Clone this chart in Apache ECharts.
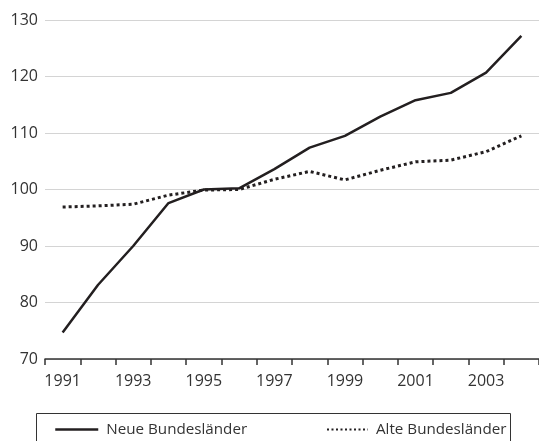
<!DOCTYPE html>
<html>
<head>
<meta charset="utf-8">
<script src="https://cdn.jsdelivr.net/npm/echarts@6/dist/echarts.min.js"></script>
<style>
html,body{margin:0;padding:0;background:#fff;}
#chart{width:539px;height:441px;}
</style>
</head>
<body>
<div id="chart"></div>
<script>
const years = ['1991','1992','1993','1994','1995','1996','1997','1998','1999','2000','2001','2002','2003','2004'];
const neueBundeslaender = [74.7, 83.1, 90.0, 97.6, 100.0, 100.2, 103.6, 107.4, 109.5, 112.9, 115.8, 117.1, 120.7, 127.2];
const alteBundeslaender = [96.9, 97.1, 97.4, 99.0, 99.9, 100.0, 101.8, 103.2, 101.7, 103.4, 104.9, 105.2, 106.7, 109.5];
const seriesNames = ['Neue Bundesländer', 'Alte Bundesländer'];

const FONT = '"Open Sans", sans-serif';
const INK = '#231f20';

const chart = echarts.init(document.getElementById('chart'), null, {renderer: 'canvas'});
chart.setOption({
  animation: false,
  backgroundColor: '#fff',
  textStyle: {fontFamily: FONT},
  grid: {left: 45, top: 20, width: 497, height: 339, containLabel: false},
  xAxis: {
    type: 'category',
    data: years,
    boundaryGap: true,
    axisLine: {lineStyle: {color: '#333', width: 1.5}},
    axisTick: {show: true, interval: 0, length: 6, lineStyle: {color: '#333', width: 1.5}},
    axisLabel: {interval: 1, color: '#333', fontSize: 16, fontFamily: FONT, margin: 14},
    splitLine: {show: false}
  },
  yAxis: {
    type: 'value',
    min: 70, max: 130, interval: 10,
    axisLine: {show: false},
    axisTick: {show: false},
    axisLabel: {color: '#333', fontSize: 16, fontFamily: FONT, margin: 7},
    splitLine: {lineStyle: {color: '#d4d4d4', width: 1.2}}
  },
  legend: [
    {
      data: [seriesNames[0]], left: 49, top: 417,
      itemWidth: 43, itemHeight: 14,
      itemStyle: {opacity: 0},
      lineStyle: {width: 2.5, color: INK},
      textStyle: {fontSize: 15.2, color: '#333', fontFamily: FONT, padding: [0,0,0,3]}
    },
    {
      data: [seriesNames[1]], left: 321, top: 417,
      itemWidth: 41, itemHeight: 14,
      itemStyle: {opacity: 0},
      lineStyle: {width: 2, color: INK, type: [2, 2.5]},
      textStyle: {fontSize: 15.2, color: '#333', fontFamily: FONT, padding: [0,0,0,3]}
    }
  ],
  graphic: [{
    type: 'rect',
    shape: {x: 36.5, y: 413.5, width: 474, height: 40},
    style: {fill: 'none', stroke: '#333', lineWidth: 1},
    silent: true
  }],
  series: [
    {
      name: seriesNames[0], type: 'line', data: neueBundeslaender,
      symbol: 'none', lineStyle: {color: INK, width: 2.5}, itemStyle: {color: INK}
    },
    {
      name: seriesNames[1], type: 'line', data: alteBundeslaender,
      symbol: 'none', lineStyle: {color: INK, width: 3, type: [3, 3]}, itemStyle: {color: INK}
    }
  ]
});
</script>
</body>
</html>
